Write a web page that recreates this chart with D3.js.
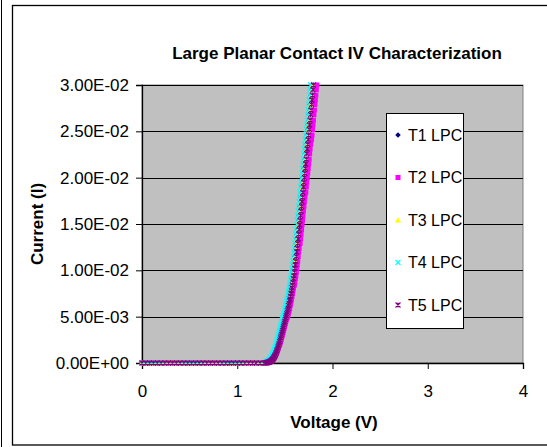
<!DOCTYPE html>
<html>
<head>
<meta charset="utf-8">
<script src="https://cdn.jsdelivr.net/npm/d3@7"></script>
<style>
  body { margin: 0; background: #fff; overflow: hidden; }
  svg { display: block; font-family: "Liberation Sans", Arial, sans-serif; }
</style>
</head>
<body>
<div id="chart-area"></div>
<script>
// sweep voltages (V): coarse in the off region, fine through the turn-on
var voltage = [
  0,0.04,0.08,0.12,0.16,0.2,0.24,0.28,0.32,0.36,0.4,0.44,0.48,0.52,0.56,0.6,0.64,
  0.68,0.72,0.76,0.8,0.84,0.88,0.92,0.96,1,1.04,1.08,1.12,1.16,1.2,1.24,1.28,
  1.3,1.305,1.31,1.315,1.32,1.325,1.33,1.335,1.34,1.345,
  1.35,1.355,1.36,1.365,1.37,1.375,1.38,1.385,1.39,1.395,
  1.4,1.405,1.41,1.415,1.42,1.425,1.43,1.435,1.44,1.445,
  1.45,1.455,1.46,1.465,1.47,1.475,1.48,1.485,1.49,1.495,
  1.5,1.505,1.51,1.515,1.52,1.525,1.53,1.535,1.54,1.545,
  1.55,1.555,1.56,1.565,1.57,1.575,1.58,1.585,1.59,1.595,
  1.6,1.605,1.61,1.615,1.62,1.625,1.63,1.635,1.64,1.645,
  1.65,1.655,1.66,1.665,1.67,1.675,1.68,1.685,1.69,1.695,
  1.7,1.705,1.71,1.715,1.72,1.725,1.73,1.735,1.74,1.745,
  1.75,1.755,1.76,1.765,1.77,1.775,1.78,1.785,1.79,1.795,
  1.8,1.805,1.81,1.815,1.82,1.825,1.83,1.835,1.84
];

// currents (A) for each contact
var t1Current = [
  0,0,0,0,0,0,0,0,0,0,0,0,0,0,0,0,0,0,0,0,0,0,0,0,0,0,0,0,0,0,0,0,0,
  0.00005,0.00006,0.00008,0.0001,0.00012,0.00014,0.00017,0.0002,0.00024,0.00028,
  0.00033,0.00039,0.00046,0.00053,0.00061,0.0007,0.0008,0.0009,0.00103,0.00116,
  0.0013,0.00145,0.0016,0.00176,0.00193,0.0021,0.0023,0.0025,0.0027,0.0029,
  0.0031,0.0033,0.0035,0.0037,0.0039,0.0041,0.0043,0.0045,0.0047,0.0049,
  0.0051,0.0053,0.0055,0.0057,0.0059,0.0062,0.0064,0.0067,0.0069,0.0072,
  0.0075,0.0078,0.0081,0.0084,0.0087,0.0091,0.0094,0.0098,0.0102,0.0106,
  0.011,0.0115,0.012,0.0124,0.0129,0.0134,0.0139,0.0144,0.0149,0.0154,
  0.0159,0.0164,0.0169,0.0174,0.0179,0.0184,0.019,0.0195,0.02,0.0205,
  0.021,0.0215,0.022,0.0226,0.0231,0.0236,0.0241,0.0246,0.0252,0.0257,
  0.0262,0.0268,0.0273,0.0279,0.0284,0.0289,0.0295,0.03,0.0305,0.0311,
  0.0316,0.0321,0.0326,0.0332,0.0337,0.0342,0.0347,0.0353,0.0358
];
var t2Current = [
  0,0,0,0,0,0,0,0,0,0,0,0,0,0,0,0,0,0,0,0,0,0,0,0,0,0,0,0,0,0,0,0,0,
  0.00002,0.00002,0.00003,0.00004,0.00005,0.00006,0.00008,0.0001,0.00012,0.00014,
  0.00017,0.0002,0.00024,0.00028,0.00033,0.00039,0.00046,0.00053,0.00061,0.0007,
  0.0008,0.0009,0.00103,0.00116,0.0013,0.00145,0.0016,0.00176,0.00193,0.00205,
  0.00215,0.0023,0.0025,0.0027,0.0029,0.0031,0.0033,0.0035,0.0037,0.0039,
  0.0041,0.0043,0.0045,0.0047,0.00485,0.00495,0.0051,0.0053,0.0055,0.0057,
  0.0059,0.0062,0.0064,0.0067,0.0069,0.0072,0.0075,0.0078,0.0081,0.00835,
  0.00845,0.0087,0.0091,0.0094,0.0098,0.0102,0.0106,0.011,0.0115,0.012,
  0.0124,0.01285,0.01295,0.0134,0.0139,0.0144,0.0149,0.0154,0.0159,0.0164,
  0.0169,0.0174,0.0179,0.01835,0.01845,0.019,0.0195,0.02,0.0205,0.021,
  0.0215,0.022,0.0226,0.0231,0.0236,0.02405,0.02415,0.0246,0.0252,0.0257,
  0.0262,0.0268,0.0273,0.0279,0.0284,0.0289,0.0295,0.03,0.0305
];
var t3Current = [
  0,0,0,0,0,0,0,0,0,0,0,0,0,0,0,0,0,0,0,0,0,0,0,0,0,0,0,0,0,0,0,0,0,
  0.00004,0.00005,0.00006,0.00008,0.0001,0.00012,0.00014,0.00017,0.0002,0.00024,
  0.00028,0.00033,0.00039,0.00046,0.00053,0.00061,0.0007,0.0008,0.0009,0.00103,
  0.00116,0.0013,0.00145,0.0016,0.00176,0.00193,0.0021,0.0023,0.0025,0.0027,
  0.0029,0.0031,0.0033,0.0035,0.0037,0.0039,0.0041,0.0043,0.0045,0.0047,
  0.0049,0.0051,0.0053,0.0055,0.0057,0.0059,0.0062,0.0064,0.0067,0.0069,
  0.0072,0.0075,0.0078,0.0081,0.0084,0.0087,0.0091,0.0094,0.0098,0.0102,
  0.0106,0.011,0.0115,0.012,0.0124,0.0129,0.0134,0.0139,0.0144,0.0149,
  0.0154,0.0159,0.0164,0.0169,0.0174,0.0179,0.0184,0.019,0.0195,0.02,
  0.0205,0.021,0.0215,0.022,0.0226,0.0231,0.0236,0.0241,0.0246,0.0252,
  0.0257,0.0262,0.0268,0.0273,0.0279,0.0284,0.0289,0.0295,0.03,0.0305,
  0.0311,0.0316,0.0321,0.0326,0.0332,0.0337,0.0342,0.0347,0.0353
];
var t4Current = [
  0,0,0,0,0,0,0,0,0,0,0,0,0,0,0,0,0,0,0,0,0,0,0,0,0,0,0,0,0,0,0,0,0,
  0.0001,0.00012,0.00014,0.00017,0.0002,0.00024,0.00028,0.00033,0.00039,0.00046,
  0.00053,0.00061,0.0007,0.0008,0.0009,0.00103,0.00116,0.0013,0.00145,0.0016,
  0.00176,0.00193,0.0021,0.0023,0.0025,0.0027,0.0029,0.0031,0.0033,0.0035,
  0.0037,0.0039,0.0041,0.0043,0.0045,0.0047,0.0049,0.0051,0.0053,0.0055,
  0.0057,0.0059,0.0062,0.0064,0.0067,0.0069,0.0072,0.0075,0.0078,0.0081,
  0.0084,0.0087,0.0091,0.0094,0.0098,0.0102,0.0106,0.011,0.0115,0.012,
  0.0124,0.0129,0.0134,0.0139,0.0144,0.0149,0.0154,0.0159,0.0164,0.0169,
  0.0174,0.0179,0.0184,0.019,0.0195,0.02,0.0205,0.021,0.0215,0.022,
  0.0226,0.0231,0.0236,0.0241,0.0246,0.0252,0.0257,0.0262,0.0268,0.0273,
  0.0279,0.0284,0.0289,0.0295,0.03,0.0305,0.0311,0.0316,0.0321,0.0326,
  0.0332,0.0337,0.0342,0.0347,0.0353,0.0358,0.0363,0.0368,0.0374
];
var t5Current = [
  0,0,0,0,0,0,0,0,0,0,0,0,0,0,0,0,0,0,0,0,0,0,0,0,0,0,0,0,0,0,0,0,0,
  0.00002,0.00003,0.00004,0.00005,0.00006,0.00008,0.0001,0.00012,0.00014,0.00017,
  0.0002,0.00024,0.00028,0.00033,0.00039,0.00046,0.00053,0.00061,0.0007,0.0008,
  0.0009,0.00103,0.00116,0.0013,0.00145,0.0016,0.00176,0.00193,0.0021,0.0023,
  0.0025,0.0027,0.0029,0.0031,0.0033,0.0035,0.0037,0.0039,0.0041,0.0043,
  0.0045,0.0047,0.0049,0.0051,0.0053,0.0055,0.0057,0.0059,0.0062,0.0064,
  0.0067,0.0069,0.0072,0.0075,0.0078,0.0081,0.0084,0.0087,0.0091,0.0094,
  0.0098,0.0102,0.0106,0.011,0.0115,0.012,0.0124,0.0129,0.0134,0.0139,
  0.0144,0.0149,0.0154,0.0159,0.0164,0.0169,0.0174,0.0179,0.0184,0.019,
  0.0195,0.02,0.0205,0.021,0.0215,0.022,0.0226,0.0231,0.0236,0.0241,
  0.0246,0.0252,0.0257,0.0262,0.0268,0.0273,0.0279,0.0284,0.0289,0.0295,
  0.03,0.0305,0.0311,0.0316,0.0321,0.0326,0.0332,0.0337,0.0342
];

var seriesNames = ["T1 LPC", "T2 LPC", "T3 LPC", "T4 LPC", "T5 LPC"];
var xTicks = [0, 1, 2, 3, 4];
var yTicks = [0, 0.005, 0.01, 0.015, 0.02, 0.025, 0.03];
var yTickLabels = ["0.00E+00", "5.00E-03", "1.00E-02", "1.50E-02", "2.00E-02", "2.50E-02", "3.00E-02"];

// custom excel-like marker shapes
var diamond = { draw: function(c, s) { var r = Math.sqrt(s) / 2;
  c.moveTo(0, -r); c.lineTo(r, 0); c.lineTo(0, r); c.lineTo(-r, 0); c.closePath(); } };
var square = { draw: function(c, s) { var r = Math.sqrt(s) / 2; c.rect(-r, -r, 2 * r, 2 * r); } };
var triangle = { draw: function(c, s) { var r = Math.sqrt(s) / 2;
  c.moveTo(0, -r); c.lineTo(r, r * 0.8); c.lineTo(-r, r * 0.8); c.closePath(); } };
var cross = { draw: function(c, s) { var r = Math.sqrt(s) / 2;
  c.moveTo(-r, -r); c.lineTo(r, r); c.moveTo(r, -r); c.lineTo(-r, r); } };
var star = { draw: function(c, s) { var r = Math.sqrt(s) / 2;
  c.moveTo(-r, -r); c.lineTo(r, r); c.moveTo(r, -r); c.lineTo(-r, r);
  c.moveTo(0, -r); c.lineTo(0, r); } };

var series = [
  { name: seriesNames[0], current: t1Current, color: "#000080", shape: diamond, size: 30, filled: true },
  { name: seriesNames[1], current: t2Current, color: "#FF00FF", shape: square, size: 25, filled: true },
  { name: seriesNames[2], current: t3Current, color: "#FFFF00", shape: triangle, size: 36, filled: true },
  { name: seriesNames[3], current: t4Current, color: "#00FFFF", shape: cross, size: 25, filled: false },
  { name: seriesNames[4], current: t5Current, color: "#800080", shape: star, size: 25, filled: false }
];

var width = 547, height = 447;
var plot = { left: 142, right: 523, top: 85, bottom: 363 };

var svg = d3.select("#chart-area")
  .append("svg")
  .attr("width", width)
  .attr("height", height);

// outer frame lines
svg.append("line")
  .attr("x1", 1.5).attr("x2", 1.5).attr("y1", 0).attr("y2", height)
  .attr("stroke", "#000").attr("stroke-width", 1);
svg.append("rect")
  .attr("x", 12.5).attr("y", 5.5)
  .attr("width", 560).attr("height", 439.5)
  .attr("fill", "#fff").attr("stroke", "#000").attr("stroke-width", 1.3);

var x = d3.scaleLinear().domain([0, 4]).range([plot.left, plot.right]);
var y = d3.scaleLinear().domain([0, 0.03]).range([plot.bottom, plot.top]);

// plot area
svg.append("rect")
  .attr("x", plot.left).attr("y", plot.top)
  .attr("width", plot.right - plot.left).attr("height", plot.bottom - plot.top)
  .attr("fill", "#C0C0C0").attr("stroke", "#808080").attr("stroke-width", 1);

// gridlines
svg.append("g")
  .selectAll("line")
  .data(yTicks.slice(1))
  .enter()
  .append("line")
  .attr("x1", plot.left).attr("x2", plot.right)
  .attr("y1", (d) => Math.round(y(d)) + 0.5)
  .attr("y2", (d) => Math.round(y(d)) + 0.5)
  .attr("stroke", "#000").attr("stroke-width", 1);

// axes
var yAxis = svg.append("g")
  .attr("transform", "translate(" + plot.left + ",0)")
  .call(d3.axisLeft(y).tickValues(yTicks).tickSize(6).tickPadding(7)
    .tickFormat((d, i) => yTickLabels[i]));
var xAxis = svg.append("g")
  .attr("transform", "translate(0," + plot.bottom + ")")
  .call(d3.axisBottom(x).tickValues(xTicks).tickSize(6).tickPadding(16)
    .tickFormat(d3.format("d")));
[yAxis, xAxis].forEach(function(g) {
  g.select(".domain").attr("stroke", "#000").attr("stroke-width", 1.3);
  g.selectAll(".tick line").attr("stroke", "#000");
  g.selectAll("text")
    .attr("fill", "#000")
    .style("font-family", "'Liberation Sans', Arial, sans-serif")
    .style("font-size", "17px");
});

// data markers, drawn T1 first so T5 ends on top
series.forEach(function(s) {
  var pts = voltage.map((v, i) => ({ v: v, c: s.current[i] }))
    .filter((d) => d.c <= 0.0302);
  var sym = d3.symbol().type(s.shape).size(s.size);
  svg.append("g")
    .selectAll("path")
    .data(pts)
    .enter()
    .append("path")
    .attr("transform", (d) => "translate(" + x(d.v) + "," + y(d.c) + ")")
    .attr("d", sym)
    .attr("fill", s.filled ? s.color : "none")
    .attr("stroke", s.filled ? "none" : s.color)
    .attr("stroke-width", 1.1);
});

// legend
var legend = svg.append("g");
legend.append("rect")
  .attr("x", 386.5).attr("y", 113.5)
  .attr("width", 77).attr("height", 215)
  .attr("fill", "#fff").attr("stroke", "#000").attr("stroke-width", 1);
var item = legend.selectAll("g.item")
  .data(series)
  .enter()
  .append("g")
  .attr("class", "item")
  .attr("transform", (d, i) => "translate(398," + (135 + i * 42.5) + ")");
item.append("path")
  .attr("d", (d) => d3.symbol().type(d.shape).size(d.size)())
  .attr("fill", (d) => d.filled ? d.color : "none")
  .attr("stroke", (d) => d.filled ? "none" : d.color)
  .attr("stroke-width", 1.1);
item.append("text")
  .attr("x", 10).attr("dy", "0.36em")
  .style("font-size", "16px")
  .text((d) => d.name);

// titles
svg.append("text")
  .attr("x", 337).attr("y", 59)
  .attr("text-anchor", "middle")
  .style("font-size", "17px").style("font-weight", "bold")
  .text("Large Planar Contact IV Characterization");
svg.append("text")
  .attr("x", 334).attr("y", 428)
  .attr("text-anchor", "middle")
  .style("font-size", "17px").style("font-weight", "bold")
  .text("Voltage (V)");
svg.append("text")
  .attr("transform", "translate(43,224) rotate(-90)")
  .attr("text-anchor", "middle")
  .style("font-size", "17px").style("font-weight", "bold")
  .text("Current (I)");
</script>
</body>
</html>
